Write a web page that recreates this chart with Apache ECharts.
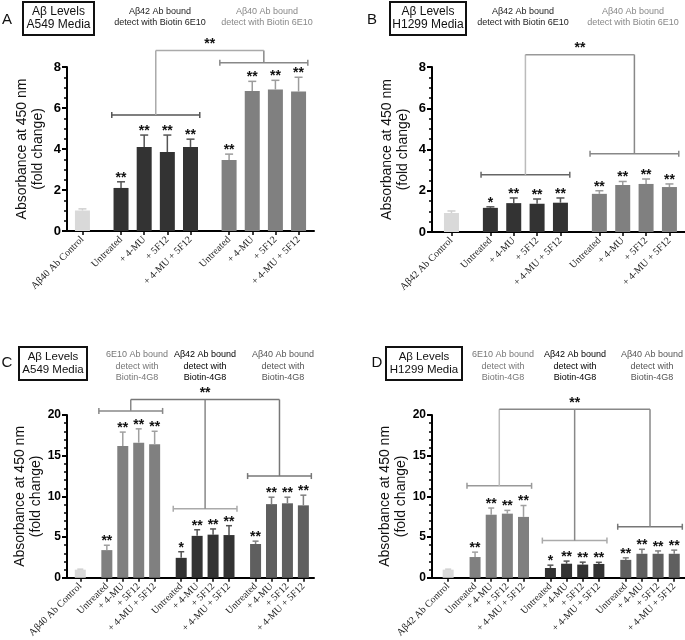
<!DOCTYPE html>
<html><head><meta charset="utf-8">
<script src="https://cdn.jsdelivr.net/npm/echarts@6/dist/echarts.min.js"></script>
<style>html,body{margin:0;padding:0;background:#fff}#c{width:685px;height:640px}</style>
</head><body><div id="c"></div>
<script>
// ---------------- DATA ----------------
const treatments = ['Untreated', '+ 4-MU', '+ 5F12', '+ 4-MU + 5F12'];
const yTitle = 'Absorbance at 450 nm\n(fold change)';

// Panel A — A549 media, detect with Biotin 6E10
const A_controlLabel = 'Aβ40 Ab Control';
const A_control = [1.0];            const A_controlErr = [0.08];
const A_ab42 = [2.1, 4.1, 3.85, 4.1];   const A_ab42Err = [0.3, 0.58, 0.83, 0.38];
const A_ab42Sig = ['**', '**', '**', '**'];
const A_ab40 = [3.46, 6.83, 6.9, 6.8];  const A_ab40Err = [0.29, 0.47, 0.45, 0.7];
const A_ab40Sig = ['**', '**', '**', '**'];
const A_bracketLevels = [5.66, 8.21];   const A_bracketTop = 8.8;   const A_topSig = '**';
const A_yMax = 8, A_yStep = 2;

// Panel B — H1299 media, detect with Biotin 6E10
const B_controlLabel = 'Aβ42 Ab Control';
const B_control = [0.92];           const B_controlErr = [0.1];
const B_ab42 = [1.17, 1.4, 1.37, 1.42]; const B_ab42Err = [0.05, 0.25, 0.23, 0.23];
const B_ab42Sig = ['*', '**', '**', '**'];
const B_ab40 = [1.85, 2.28, 2.33, 2.18]; const B_ab40Err = [0.15, 0.17, 0.24, 0.15];
const B_ab40Sig = ['**', '**', '**', '**'];
const B_bracketLevels = [2.77, 3.79];   const B_bracketTop = 8.6;   const B_topSig = '**';
const B_yMax = 8, B_yStep = 2;

// Panel C — A549 media, detect with Biotin-4G8
const C_controlLabel = 'Aβ40 Ab Control';
const C_control = [1.0];            const C_controlErr = [0.06];
const C_e10 = [3.4, 16.2, 16.6, 16.4];  const C_e10Err = [0.6, 1.7, 1.7, 1.6];
const C_e10Sig = ['**', '**', '**', '**'];
const C_ab42 = [2.45, 5.15, 5.3, 5.25]; const C_ab42Err = [0.75, 0.75, 0.7, 1.15];
const C_ab42Sig = ['*', '**', '**', '**'];
const C_ab40 = [4.15, 9.05, 9.15, 8.9]; const C_ab40Err = [0.35, 0.85, 0.75, 1.25];
const C_ab40Sig = ['**', '**', '**', '**'];
const C_bracketLevels = [20.5, 8.47, 12.5]; const C_bracketTop = 21.9; const C_topSig = '**';
const C_yMax = 20, C_yStep = 5;

// Panel D — H1299 media, detect with Biotin-4G8
const D_controlLabel = 'Aβ42 Ab Control';
const D_control = [1.0];            const D_controlErr = [0.06];
const D_e10 = [2.55, 7.75, 7.88, 7.48]; const D_e10Err = [0.6, 0.82, 0.4, 1.4];
const D_e10Sig = ['**', '**', '**', '**'];
const D_ab42 = [1.2, 1.73, 1.62, 1.7];  const D_ab42Err = [0.35, 0.32, 0.3, 0.2];
const D_ab42Sig = ['*', '**', '**', '**'];
const D_ab40 = [2.2, 2.95, 2.95, 2.95]; const D_ab40Err = [0.25, 0.55, 0.35, 0.45];
const D_ab40Sig = ['**', '**', '**', '**'];
const D_bracketLevels = [11.3, 4.57, 6.27]; const D_bracketTop = 20.7; const D_topSig = '**';
const D_yMax = 20, D_yStep = 5;

// ---------------- PANEL DEFINITIONS (data refs + layout/style) ----------------
const panels = [
  { controlLabel: A_controlLabel, control: A_control, controlErr: A_controlErr,
    groups: [[A_ab42, A_ab42Err, A_ab42Sig], [A_ab40, A_ab40Err, A_ab40Sig]],
    brackets: A_bracketLevels, top: A_bracketTop, topSig: A_topSig, yMax: A_yMax, yStep: A_yStep,
    grid: { left: 67, top: 67, width: 247, height: 164 }, lead: 4, trail: 4,
    barW: 15, cap: 4, ext: 0.4, minorSplit: 4, tickFont: 13,
    barColors: ['#333333', '#808080'], errColors: ['#555555', '#9c9c9c'],
    brColors: ['#555555', '#888888'], vColors: ['#aaaaaa', '#888888'], topColor: '#aaaaaa' },
  { controlLabel: B_controlLabel, control: B_control, controlErr: B_controlErr,
    groups: [[B_ab42, B_ab42Err, B_ab42Sig], [B_ab40, B_ab40Err, B_ab40Sig]],
    brackets: B_bracketLevels, top: B_bracketTop, topSig: B_topSig, yMax: B_yMax, yStep: B_yStep,
    grid: { left: 432, top: 67, width: 253, height: 165 }, lead: 5, trail: 4,
    barW: 15, cap: 4, ext: 0.4, minorSplit: 4, tickFont: 13,
    barColors: ['#333333', '#808080'], errColors: ['#555555', '#9c9c9c'],
    brColors: ['#666666', '#888888'], vColors: ['#bbbbbb', '#888888'], topColor: '#999999' },
  { controlLabel: C_controlLabel, control: C_control, controlErr: C_controlErr,
    groups: [[C_e10, C_e10Err, C_e10Sig], [C_ab42, C_ab42Err, C_ab42Sig], [C_ab40, C_ab40Err, C_ab40Sig]],
    brackets: C_bracketLevels, top: C_bracketTop, topSig: C_topSig, yMax: C_yMax, yStep: C_yStep,
    grid: { left: 67, top: 415, width: 247, height: 163 }, lead: 5, trail: 4,
    barW: 11, cap: 3, ext: 0.5, minorSplit: 5, tickFont: 12,
    barColors: ['#808080', '#333333', '#5f5f5f'], errColors: ['#a0a0a0', '#555555', '#808080'],
    brColors: ['#888888', '#aaaaaa', '#777777'], vColors: ['#888888', '#888888', '#777777'], topColor: '#777777' },
  { controlLabel: D_controlLabel, control: D_control, controlErr: D_controlErr,
    groups: [[D_e10, D_e10Err, D_e10Sig], [D_ab42, D_ab42Err, D_ab42Sig], [D_ab40, D_ab40Err, D_ab40Sig]],
    brackets: D_bracketLevels, top: D_bracketTop, topSig: D_topSig, yMax: D_yMax, yStep: D_yStep,
    grid: { left: 432, top: 415, width: 253, height: 165 }, lead: 6, trail: 4,
    barW: 11, cap: 3, ext: 0.5, minorSplit: 5, tickFont: 12,
    barColors: ['#808080', '#333333', '#5f5f5f'], errColors: ['#a0a0a0', '#555555', '#808080'],
    brColors: ['#999999', '#aaaaaa', '#777777'], vColors: ['#bbbbbb', '#888888', '#888888'], topColor: '#888888' }
];

const SUB = 6;   // sub-slots per bar slot
const GAP = 10;  // sub-slots between group centres across a gap

const FONT = 'Liberation Sans';
const grids = [], xAxes = [], yAxes = [], series = [];

function setText(style, align, valign) {
  style.align = align; style.textAlign = align;
  style.verticalAlign = valign; style.textVerticalAlign = valign;
  return style;
}

panels.forEach((p, pi) => {
  // positions on the sub-slot category axis
  let cur = p.lead;
  const ctrlPos = cur;
  cur += GAP;
  const groupPos = p.groups.map(g => {
    const arr = g[0].map((_, i) => cur + i * SUB);
    cur = arr[arr.length - 1] + GAP;
    return arr;
  });
  const lastPos = groupPos[groupPos.length - 1][groupPos[groupPos.length - 1].length - 1];
  const N = lastPos + p.trail + 1;
  const cats = [];
  for (let i = 0; i < N; i++) cats.push(' '.repeat(i % 3 + 1));
  const labeled = new Set([ctrlPos]);
  cats[ctrlPos] = p.controlLabel;
  groupPos.forEach(arr => arr.forEach((x, i) => { cats[x] = treatments[i]; labeled.add(x); }));
  const showFn = (idx) => labeled.has(idx);

  grids.push(Object.assign({ containLabel: false }, p.grid));
  xAxes.push({
    type: 'category', gridIndex: pi, data: cats, boundaryGap: false,
    axisLine: { show: true, lineStyle: { color: '#000', width: 2 } },
    axisTick: { show: true, interval: showFn, length: 4, lineStyle: { color: '#000', width: 1.5 } },
    axisLabel: { interval: showFn, rotate: 45, fontFamily: 'Liberation Serif', fontSize: 10, color: '#222', margin: 7 },
    splitLine: { show: false }
  });
  yAxes.push({
    type: 'value', gridIndex: pi, min: 0, max: p.yMax, interval: p.yStep,
    axisLine: { show: true, onZero: false, lineStyle: { color: '#000', width: 2 } },
    axisTick: { show: true, length: 5, lineStyle: { color: '#000', width: 2 } },
    minorTick: { show: true, splitNumber: p.minorSplit, length: 3, lineStyle: { color: '#000', width: 1.5 } },
    splitLine: { show: false },
    axisLabel: { fontFamily: FONT, fontSize: p.tickFont, fontWeight: 'bold', color: '#000', margin: 6 },
    name: yTitle, nameLocation: 'middle', nameGap: 21,
    nameTextStyle: { fontFamily: FONT, fontSize: 14, color: '#111', lineHeight: 16 }
  });

  // bars + error bars
  const sets = [{ pos: [ctrlPos], v: p.control, e: p.controlErr, s: [''], color: '#d9d9d9', err: '#d0d0d0' }]
    .concat(p.groups.map((g, gi) => ({ pos: groupPos[gi], v: g[0], e: g[1], s: g[2], color: p.barColors[gi], err: p.errColors[gi] })));
  sets.forEach(st => {
    series.push({
      type: 'bar', xAxisIndex: pi, yAxisIndex: pi, barWidth: p.barW, barGap: '-100%',
      itemStyle: { color: st.color }, z: 2, silent: true,
      data: st.pos.map((x, k) => [x, st.v[k]])
    });
    const sigs = st.s;
    series.push({
      type: 'custom', xAxisIndex: pi, yAxisIndex: pi, z: 3, clip: false, silent: true,
      encode: { x: 0, y: 1 },
      data: st.pos.map((x, k) => [x, st.v[k], st.e[k]]),
      renderItem: (params, api) => {
        const x = api.value(0), v = api.value(1), e = api.value(2);
        const a = api.coord([x, v]), b = api.coord([x, v + e]);
        const ls = { stroke: st.err, lineWidth: 1.5 };
        const ch = [
          { type: 'line', shape: { x1: a[0], y1: a[1], x2: b[0], y2: b[1] }, style: ls },
          { type: 'line', shape: { x1: b[0] - p.cap, y1: b[1], x2: b[0] + p.cap, y2: b[1] }, style: ls }
        ];
        const sg = sigs[params.dataIndex];
        if (sg) ch.push({ type: 'text', x: b[0], y: b[1] + 3,
          style: setText({ text: sg, font: 'bold 14px ' + FONT, fill: '#111' }, 'center', 'bottom') });
        return { type: 'group', children: ch };
      }
    });
  });

  // significance brackets
  const centers = groupPos.map(arr => (arr[0] + arr[arr.length - 1]) / 2);
  series.push({
    type: 'custom', xAxisIndex: pi, yAxisIndex: pi, z: 4, clip: false, silent: true,
    encode: { x: [0, 1], y: [2, 3] },
    data: groupPos.map((arr, gi) => [arr[0], arr[arr.length - 1], p.brackets[gi], p.top, centers[gi]]),
    renderItem: (params, api) => {
      const gi = params.dataIndex;
      const x1 = api.value(0), x2 = api.value(1), lv = api.value(2), tp = api.value(3), xc = api.value(4);
      const a = api.coord([x1, lv]), b = api.coord([x2, lv]);
      const unit = (api.coord([x1 + 1, lv])[0] - a[0]) * SUB;
      const ext = unit * p.ext;
      const c = api.coord([xc, lv]), t = api.coord([xc, tp]);
      const bs = { stroke: p.brColors[gi], lineWidth: 1.5 };
      return { type: 'group', children: [
        { type: 'line', shape: { x1: a[0] - ext, y1: a[1], x2: b[0] + ext, y2: b[1] }, style: bs },
        { type: 'line', shape: { x1: a[0] - ext, y1: a[1] - 3, x2: a[0] - ext, y2: a[1] + 3 }, style: bs },
        { type: 'line', shape: { x1: b[0] + ext, y1: b[1] - 3, x2: b[0] + ext, y2: b[1] + 3 }, style: bs },
        { type: 'line', shape: { x1: c[0], y1: c[1], x2: t[0], y2: t[1] }, style: { stroke: p.vColors[gi], lineWidth: 1.5 } }
      ] };
    }
  });
  series.push({
    type: 'custom', xAxisIndex: pi, yAxisIndex: pi, z: 4, clip: false, silent: true,
    encode: { x: [0, 1], y: 2 },
    data: [[centers[0], centers[centers.length - 1], p.top]],
    renderItem: (params, api) => {
      const a = api.coord([api.value(0), api.value(2)]), b = api.coord([api.value(1), api.value(2)]);
      return { type: 'group', children: [
        { type: 'line', shape: { x1: a[0], y1: a[1], x2: b[0], y2: b[1] }, style: { stroke: p.topColor, lineWidth: 1.5 } },
        { type: 'text', x: (a[0] + b[0]) / 2, y: a[1] + 1,
          style: setText({ text: p.topSig, font: 'bold 14px ' + FONT, fill: '#111' }, 'center', 'bottom') }
      ] };
    }
  });
});

// ---------------- HEADERS (titles, boxes) ----------------
function txt(x, y, text, font, fill, lh) {
  const st = setText({ text, font, fill }, 'center', 'middle');
  if (lh) st.lineHeight = lh;
  return { type: 'text', x, y, style: st, silent: true };
}
function box(x, y, w, h, text, fs) {
  return [
    { type: 'rect', shape: { x, y, width: w, height: h }, style: { fill: '#fff', stroke: '#111', lineWidth: 2 }, silent: true },
    txt(x + w / 2, y + h / 2, text, fs + 'px ' + FONT, '#111', fs + 1)
  ];
}
const hfont = '9px ' + FONT;
const graphics = [
  txt(7, 20, 'A', '15px ' + FONT, '#111'),
  ...box(23, 2, 71, 33, 'Aβ Levels\nA549 Media', 12),
  txt(160, 17, 'Aβ42 Ab bound\ndetect with Biotin 6E10', hfont, '#222', 11.5),
  txt(267, 17, 'Aβ40 Ab bound\ndetect with Biotin 6E10', hfont, '#888', 11.5),

  txt(372, 20, 'B', '15px ' + FONT, '#111'),
  ...box(390, 2, 76, 33, 'Aβ Levels\nH1299 Media', 12),
  txt(523, 17, 'Aβ42 Ab bound\ndetect with Biotin 6E10', hfont, '#222', 11.5),
  txt(633, 17, 'Aβ40 Ab bound\ndetect with Biotin 6E10', hfont, '#888', 11.5),

  txt(7, 363, 'C', '15px ' + FONT, '#111'),
  ...box(19, 347, 68, 33, 'Aβ Levels\nA549 Media', 11.5),
  txt(137, 366.5, '6E10 Ab bound\ndetect with\nBiotin-4G8', hfont, '#777', 11.5),
  txt(205, 366.5, 'Aβ42 Ab bound\ndetect with\nBiotin-4G8', hfont, '#000', 11.5),
  txt(283, 366.5, 'Aβ40 Ab bound\ndetect with\nBiotin-4G8', hfont, '#555', 11.5),

  txt(377, 363, 'D', '15px ' + FONT, '#111'),
  ...box(386, 347, 76, 33, 'Aβ Levels\nH1299 Media', 11.5),
  txt(503, 366.5, '6E10 Ab bound\ndetect with\nBiotin-4G8', hfont, '#777', 11.5),
  txt(575, 366.5, 'Aβ42 Ab bound\ndetect with\nBiotin-4G8', hfont, '#000', 11.5),
  txt(652, 366.5, 'Aβ40 Ab bound\ndetect with\nBiotin-4G8', hfont, '#555', 11.5)
];

const chart = echarts.init(document.getElementById('c'));
chart.setOption({
  animation: false,
  backgroundColor: '#fff',
  textStyle: { fontFamily: FONT },
  grid: grids, xAxis: xAxes, yAxis: yAxes, series,
  graphic: { elements: graphics }
});
</script>
</body></html>
